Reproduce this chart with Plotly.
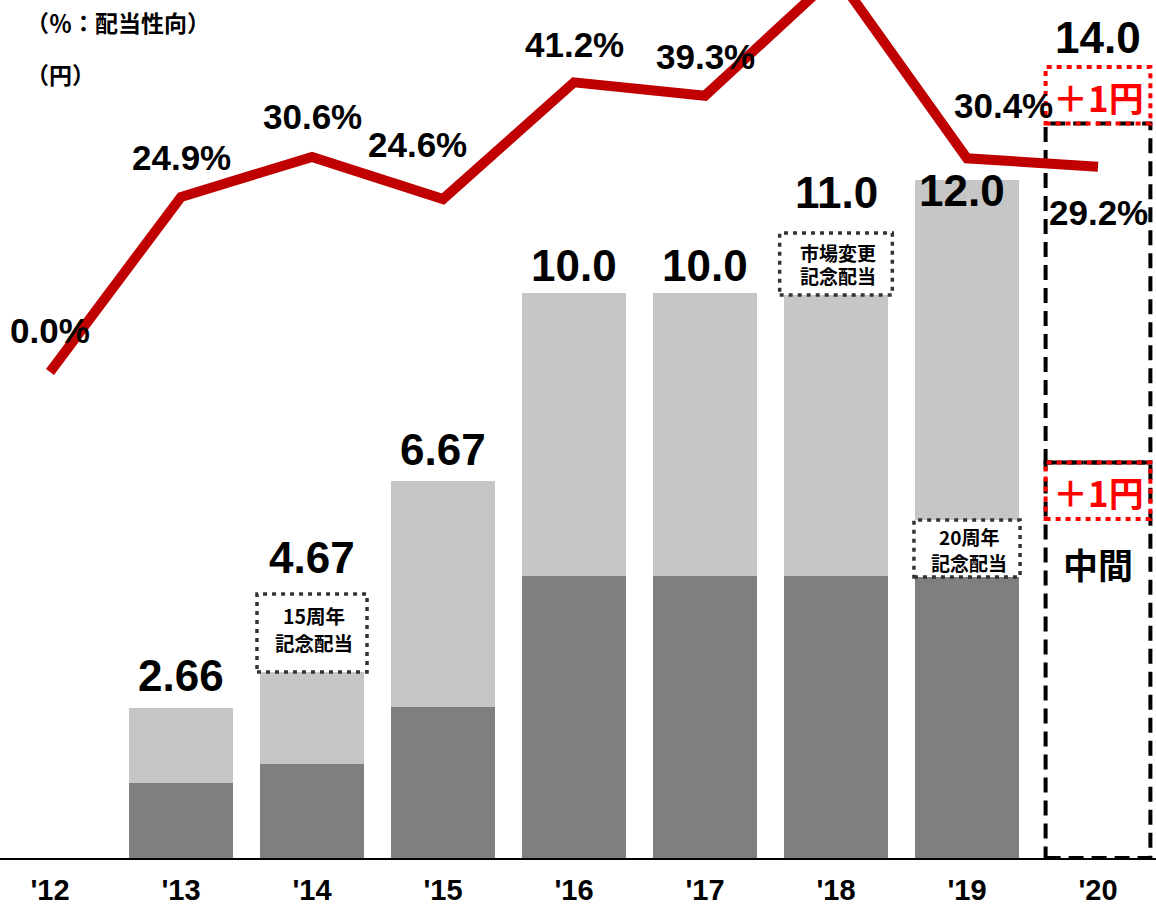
import plotly.graph_objects as go

# ---------------- data ----------------
years = ["'12", "'13", "'14", "'15", "'16", "'17", "'18", "'19", "'20"]
interim = [0.0, 1.33, 1.67, 2.67, 5.0, 5.0, 5.0, 5.0, None]          # 中間配当 (dark)
year_end = [0.0, 1.33, 3.00, 4.00, 5.0, 5.0, 6.0, 7.0, None]         # 期末配当 (light)
total_labels = ["", "2.66", "4.67", "6.67", "10.0", "10.0", "11.0", "12.0", "14.0"]
payout = [0.0, 24.9, 30.6, 24.6, 41.2, 39.3, 56.5, 30.4, 29.2]       # 配当性向 %
payout_labels = ["0.0%", "24.9%", "30.6%", "24.6%", "41.2%", "39.3%", "", "30.4%", "29.2%"]
forecast_interim_base = 6.0
forecast_interim_add = 1.0
forecast_yearend_base = 6.0
forecast_yearend_add = 1.0
commemorative = {2: ["15周年", "記念配当"], 6: ["市場変更", "記念配当"], 7: ["20周年", "記念配当"]}

# ---------------- geometry / style ----------------
W, H = 1156, 905
PLOT_H = 858
X0_PX, DX_PX = 50, 131          # pixel of first category, spacing
YEN_PX = 56.5                   # px per yen
PCT0_PX, PCT_PX = 372, 7.03     # pixel of 0 %, px per %

def yen_px(py):
    return (PLOT_H - py) / YEN_PX

DARK = "#7F7F7F"
LIGHT = "#C6C6C6"
RED_LINE = "#C00000"
RED = "#FF0000"
NUM_FONT = "Liberation Sans, Arial, sans-serif"
JP_FONT = "Noto Sans CJK JP, sans-serif"

idx = list(range(len(years)))
n_act = 8
totals = [round(a + b, 2) for a, b in zip(interim[:n_act], year_end[:n_act])]
fc_total = forecast_interim_base + forecast_interim_add + forecast_yearend_base + forecast_yearend_add
totals.append(fc_total)

fig = go.Figure()
fig.add_trace(go.Bar(x=idx[:n_act], y=interim[:n_act], marker=dict(color=DARK, line=dict(width=0)),
                     width=0.8, hoverinfo="skip"))
fig.add_trace(go.Bar(x=idx[:n_act], y=year_end[:n_act], marker=dict(color=LIGHT, line=dict(width=0)),
                     width=0.8, hoverinfo="skip"))
fig.add_trace(go.Scatter(x=idx, y=payout, yaxis="y2", mode="lines",
                         line=dict(color=RED_LINE, width=10), hoverinfo="skip"))

shapes = []
annotations = []

# forecast '20 (dashed outline boxes)
fi = idx[-1]
hw = 0.4
int_top = forecast_interim_base + forecast_interim_add
ye_top = int_top + forecast_yearend_base
for y0, y1 in [(0, int_top), (int_top, ye_top)]:
    shapes.append(dict(type="rect", xref="x", yref="y", x0=fi - hw, x1=fi + hw, y0=y0, y1=y1,
                       line=dict(color="black", width=4, dash="15px,8px"), layer="below"))
for y0, y1 in [(forecast_interim_base, int_top), (ye_top, ye_top + forecast_yearend_add)]:
    shapes.append(dict(type="rect", xref="x", yref="y", x0=fi - hw, x1=fi + hw, y0=y0, y1=y1,
                       line=dict(color=RED, width=4, dash="5px,5px"), layer="above"))
    annotations.append(dict(x=fi, y=(y0 + y1) / 2, xref="x", yref="y", text="<b>＋1円</b>",
                            showarrow=False, font=dict(family=JP_FONT, size=35, color=RED),
                            xanchor="center", yanchor="middle", yshift=-1))
annotations.append(dict(x=fi, y=yen_px(563), xref="x", yref="y", text="<b>中間</b>", showarrow=False,
                        font=dict(family=JP_FONT, size=35, color="black"),
                        xanchor="center", yanchor="middle"))

# commemorative dividend boxes
box_specs = {2: (0.42, yen_px(672), yen_px(594), [615, 642], 19.5),
             6: (0.43, yen_px(295), yen_px(233), [252, 275], 19),
             7: (0.405, yen_px(577), yen_px(520), [536, 562], 19)}
for i, rows in commemorative.items():
    bhw, by0, by1, rowpx, fs = box_specs[i]
    shapes.append(dict(type="rect", xref="x", yref="y", x0=i - bhw, x1=i + bhw, y0=by0, y1=by1,
                       fillcolor="white", line=dict(color="#333333", width=3.5, dash="4px,5px"),
                       layer="above"))
    for txt, py in zip(rows, rowpx):
        annotations.append(dict(x=i, y=yen_px(py), xref="x", yref="y", text="<b>" + txt + "</b>",
                                showarrow=False, font=dict(family=JP_FONT, size=fs, color="black"),
                                xanchor="center", yanchor="middle", xshift=2))

# total labels
total_shift = [0, 32, 37, 32, 28, 28, 44, -10, 30]
for i in idx:
    if total_labels[i]:
        annotations.append(dict(x=i, y=totals[i], xref="x", yref="y", text=total_labels[i],
                                showarrow=False,
                                font=dict(family=NUM_FONT, size=44, color="black", weight="bold"),
                                xanchor="center", yanchor="middle", yshift=total_shift[i],
                                xshift=-5 if i == 7 else 0))

# payout labels
pct_shift = [(0, 42), (0, 39), (0, 40), (-26, 55), (0, 38), (0, 39), (0, 0), (36, 53), (0, -46)]
for i in idx:
    if payout_labels[i]:
        xs, ys = pct_shift[i]
        annotations.append(dict(x=i, y=payout[i], xref="x", yref="y2", text=payout_labels[i],
                                showarrow=False,
                                font=dict(family=NUM_FONT, size=35, color="black", weight="bold"),
                                xanchor="center", yanchor="middle", xshift=xs, yshift=ys))

# unit labels
annotations.append(dict(x=24 / W, y=1 - 22 / PLOT_H, xref="paper", yref="paper",
                        text="<b>（％：配当性向）</b>", showarrow=False,
                        font=dict(family=JP_FONT, size=23, color="black"),
                        xanchor="left", yanchor="middle"))
annotations.append(dict(x=24 / W, y=1 - 74 / PLOT_H, xref="paper", yref="paper",
                        text="<b>（円）</b>", showarrow=False,
                        font=dict(family=JP_FONT, size=23, color="black"),
                        xanchor="left", yanchor="middle"))

x0 = -X0_PX / DX_PX
fig.update_layout(
    width=W, height=H,
    margin=dict(l=0, r=0, t=0, b=H - PLOT_H, autoexpand=False),
    paper_bgcolor="white", plot_bgcolor="white",
    barmode="stack", bargap=0.2, showlegend=False,
    xaxis=dict(range=[x0, x0 + W / DX_PX], tickvals=idx, ticktext=years,
               tickfont=dict(family=NUM_FONT, size=29, color="black", weight="bold"),
               showline=True, linecolor="black", linewidth=2, showgrid=False, zeroline=False,
               ticks="", ticklabelstandoff=5, automargin=False, fixedrange=True),
    yaxis=dict(range=[0, PLOT_H / YEN_PX], visible=False, showgrid=False, zeroline=False),
    yaxis2=dict(range=[-(PLOT_H - PCT0_PX) / PCT_PX, PCT0_PX / PCT_PX], overlaying="y",
                visible=False, showgrid=False, zeroline=False),
    shapes=shapes, annotations=annotations,
)

fig.write_html("out.html")
